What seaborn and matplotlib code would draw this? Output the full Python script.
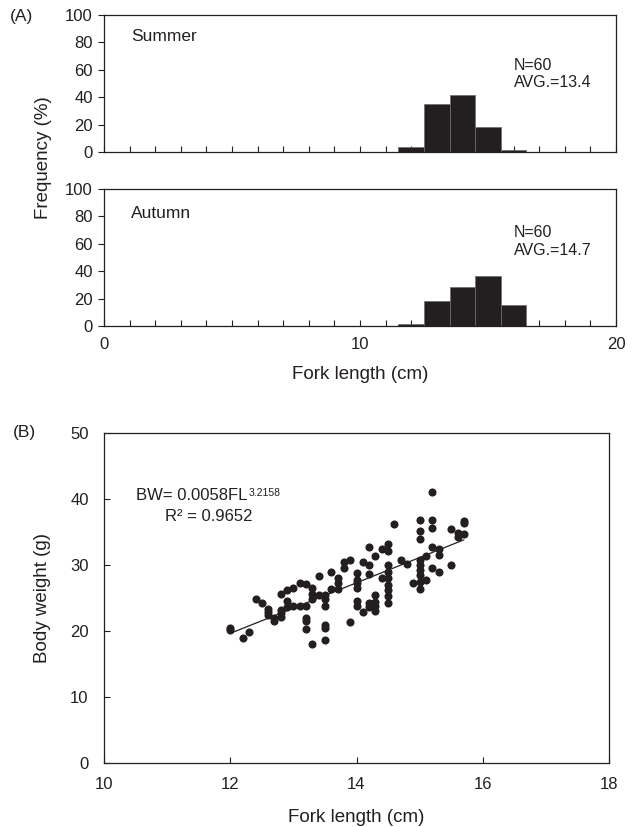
import numpy as np
import pandas as pd
import seaborn as sns
import matplotlib.pyplot as plt

# (A) length-frequency, 1 cm classes
bin_centers = [12, 13, 14, 15, 16]
summer_pct = [3.3, 35.0, 41.7, 18.3, 1.7]
autumn_pct = [1.7, 18.3, 28.3, 36.7, 15.0]

# (B) fork length (cm) vs body weight (g)
fl = [12.0, 12.0, 12.2, 12.3, 12.4, 12.5,
      12.6, 12.6, 12.6, 12.7, 12.7,
      12.8, 12.8, 12.8, 12.8, 12.9, 12.9, 12.9,
      13.0, 13.0, 13.1, 13.1,
      13.2, 13.2, 13.2, 13.2, 13.2,
      13.3, 13.3, 13.3, 13.3, 13.4, 13.4,
      13.5, 13.5, 13.5, 13.5, 13.5, 13.5,
      13.6, 13.6, 13.7, 13.7, 13.7, 13.8, 13.8, 13.9, 13.9,
      14.0, 14.0, 14.0, 14.0, 14.0, 14.0, 14.1, 14.1,
      14.2, 14.2, 14.2, 14.2, 14.2,
      14.3, 14.3, 14.3, 14.3, 14.3, 14.4, 14.4,
      14.5, 14.5, 14.5, 14.5, 14.5, 14.5, 14.5, 14.5, 14.5,
      14.6, 14.7, 14.8, 14.9,
      15.0, 15.0, 15.0, 15.0, 15.0, 15.0, 15.0, 15.0, 15.0,
      15.1, 15.1, 15.2, 15.2, 15.2, 15.2, 15.2,
      15.3, 15.3, 15.3, 15.5, 15.5, 15.6, 15.6, 15.7, 15.7, 15.7]
bw = [20.5, 20.1, 18.9, 19.9, 24.8, 24.2,
      23.4, 22.9, 22.4, 21.9, 21.5,
      25.6, 23.2, 22.7, 22.1, 26.2, 24.6, 23.7,
      26.5, 23.8, 27.3, 23.8,
      27.1, 23.8, 22.0, 21.5, 20.3,
      26.5, 25.6, 24.9, 18.1, 28.3, 25.5,
      25.5, 24.9, 23.8, 20.9, 20.4, 18.6,
      28.9, 26.3, 28.0, 27.2, 26.3, 30.5, 29.5, 30.8, 21.3,
      28.8, 27.8, 27.3, 26.5, 24.5, 23.8, 30.5, 22.9,
      32.8, 30.0, 28.6, 24.2, 23.7,
      31.4, 25.5, 24.4, 23.8, 23.0, 32.5, 28.0,
      33.2, 32.1, 30.0, 29.0, 28.0, 27.0, 26.2, 25.3, 24.3,
      36.2, 30.7, 30.2, 27.3,
      36.8, 35.2, 33.9, 30.8, 30.0, 29.2, 28.5, 27.5, 26.3,
      31.4, 27.8, 41.1, 36.8, 35.6, 32.8, 29.5,
      32.4, 31.5, 29.0, 35.4, 30.0, 34.8, 34.3, 36.7, 36.3, 34.7]

sns.set_style("ticks")
plt.rcParams['font.family'] = ['Liberation Sans', 'DejaVu Sans']
plt.rcParams['font.size'] = 12
plt.rcParams['axes.linewidth'] = 0.9
ink = '#231f20'
for k in ['text.color', 'axes.labelcolor', 'xtick.color', 'ytick.color', 'axes.edgecolor']:
    plt.rcParams[k] = ink

fig = plt.figure(figsize=(6.35, 8.27), dpi=100)
W, H = 635, 827


def px_axes(x0, y0, x1, y1):
    return fig.add_axes([x0 / W, 1 - y1 / H, (x1 - x0) / W, (y1 - y0) / H])


ax1 = px_axes(104, 15, 616, 152)
ax2 = px_axes(104, 189, 616, 326)
ax3 = px_axes(104, 433, 609, 763)

hist = pd.DataFrame({'fl': bin_centers, 'summer': summer_pct, 'autumn': autumn_pct})

for ax, col, season, avg, ys in [(ax1, 'summer', 'Summer', '13.4', (0.84, 0.635, 0.51)),
                                 (ax2, 'autumn', 'Autumn', '14.7', (0.82, 0.68, 0.55))]:
    sns.histplot(data=hist, x='fl', weights=col, discrete=True, ax=ax,
                 color=ink, alpha=1, edgecolor='#6d6d6d', linewidth=0.5)
    ax.set_xlim(0, 20)
    ax.set_ylim(0, 100)
    ax.set_yticks(range(0, 101, 20))
    ax.set_xticks([0, 10, 20])
    ax.set_xticks(range(0, 21), minor=True)
    ax.tick_params(axis='x', which='both', direction='in', length=4, width=0.8, pad=8)
    ax.tick_params(axis='y', direction='out', length=4, width=0.8, pad=4)
    ax.set_ylabel('')
    ax.set_xlabel('')
    ax.text(0.053, ys[0], season, transform=ax.transAxes, fontsize=12.5, va='center')
    ax.text(0.80, ys[1], 'N=60', transform=ax.transAxes, fontsize=11.5, va='center')
    ax.text(0.80, ys[2], 'AVG.=' + avg, transform=ax.transAxes, fontsize=11.5, va='center')

ax1.tick_params(axis='x', labelbottom=False)
ax2.set_xlabel('Fork length (cm)', fontsize=13.5, labelpad=10)
fig.text(43 / W, 1 - 158 / H, 'Frequency (%)', rotation=90, fontsize=13.5,
         ha='center', va='center')
fig.text(10 / W, 1 - 16 / H, '(A)', fontsize=12.5, va='center')

scat = pd.DataFrame({'fl': fl, 'bw': bw})
sns.regplot(data=scat, x='fl', y='bw', ax=ax3, ci=None, truncate=True,
            scatter_kws={'s': 34, 'color': ink, 'alpha': 1, 'linewidths': 0},
            line_kws={'color': ink, 'linewidth': 0.9})
ax3.set_xlim(10, 18)
ax3.set_ylim(0, 50)
ax3.set_xticks(range(10, 19, 2))
ax3.set_yticks(range(0, 51, 10))
ax3.tick_params(axis='x', direction='in', length=4, width=0.8, pad=10)
ax3.tick_params(axis='y', direction='in', length=4, width=0.8, pad=11)
ax3.set_xlabel('Fork length (cm)', fontsize=13.5, labelpad=12)
ax3.set_ylabel('Body weight (g)', fontsize=13.5, labelpad=14)
fig.text(13 / W, 1 - 432 / H, '(B)', fontsize=12.5, va='center')

eq = ax3.text(10.51, 40.5, 'BW= 0.0058FL', va='center', fontsize=12)
ax3.annotate('3.2158', xy=(1, 1), xycoords=eq, xytext=(0.5, 0),
             textcoords='offset points', va='top', fontsize=7.5)
ax3.text(10.97, 37.3, 'R\u00b2 = 0.9652', va='center', fontsize=12)

fig.savefig('out.png', dpi=100)
